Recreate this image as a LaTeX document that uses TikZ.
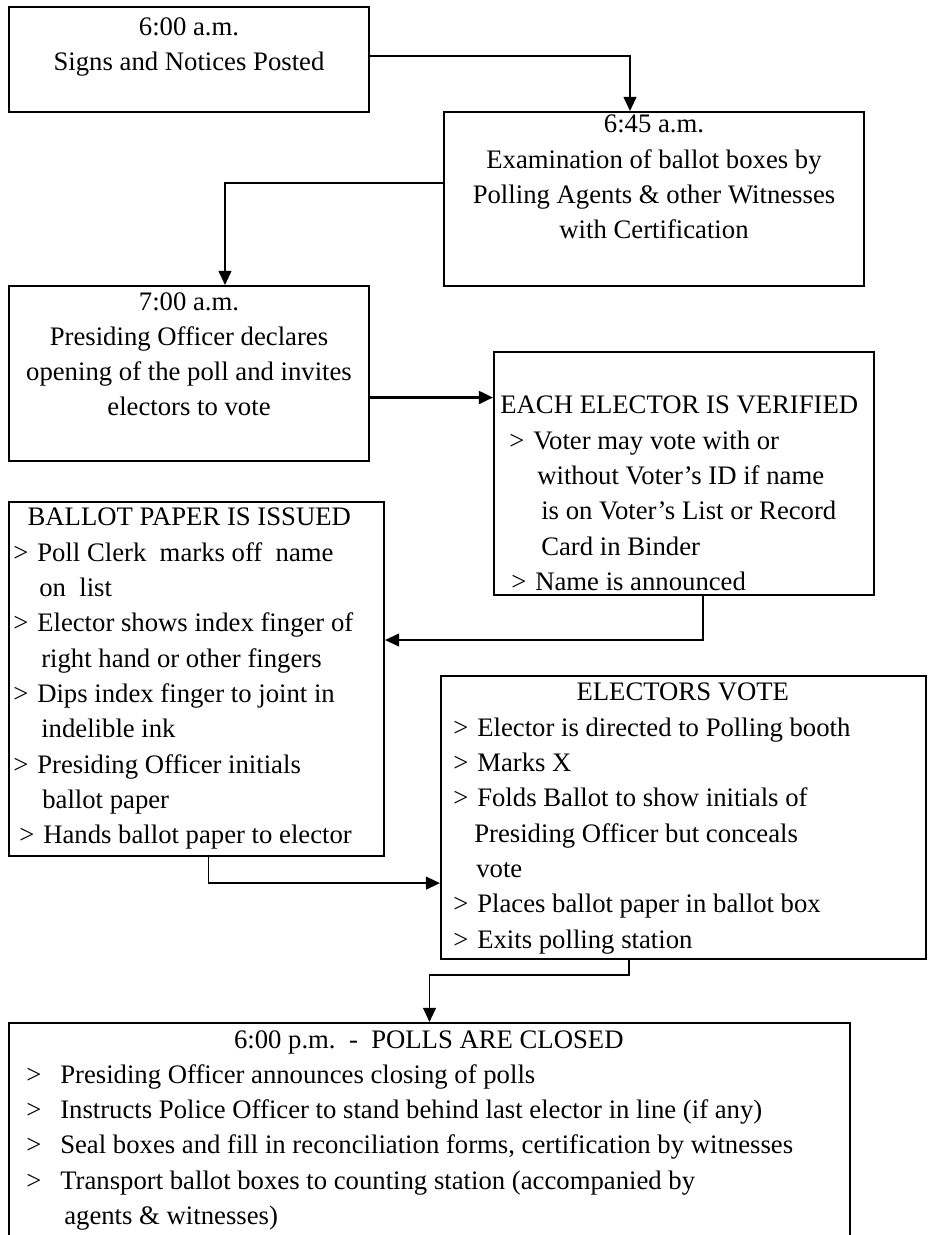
\documentclass[tikz,border=0pt]{standalone}
\usepackage{fontspec}
\setmainfont{Liberation Serif}
\usetikzlibrary{arrows.meta, positioning}
\newcommand{\flowfont}{\fontsize{19}{25.1}\selectfont}
\newcommand{\itemmark}[2]{\hspace*{#1}\makebox[#2][l]{>}}
\tikzset{
    stepbox/.style={
        rectangle,
        draw=black,
        line width=1.4pt,
        inner sep=0pt
    },
    boxtext/.style={
        align=center,
        inner sep=0pt,
        font=\flowfont
    },
    listtext/.style={
        align=left,
        inner sep=0pt,
        font=\flowfont
    },
    flow/.style={
        -{Triangle[length=10pt, width=9pt]},
        line width=1.4pt,
        draw=black
    },
    heavy flow/.style={
        flow,
        line width=2pt
    }
}
\begin{document}
\begin{tikzpicture}

\useasboundingbox (0,0) rectangle (23.2,-30.875);
\clip (0,0) rectangle (23.2,-30.875);

% Morning steps
\node[stepbox, minimum width=9cm, minimum height=2.625cm] (signs) at (4.725, -1.4875) {};
\node[boxtext, below=0.275cm of signs.north] (signs text) {
    6:00 a.m.\\
    Signs and Notices Posted
};

\node[stepbox, minimum width=10.5cm, minimum height=4.35cm] (exam) at (16.35, -4.975) {};
\node[boxtext, below=0.1cm of exam.north] (exam text) {
    6:45 a.m.\\
    Examination of ballot boxes by\\
    Polling Agents \& other Witnesses\\
    with Certification
};

\node[stepbox, minimum width=9cm, minimum height=4.375cm] (opening) at (4.725, -9.3375) {};
\node[boxtext, below=0.175cm of opening.north] (opening text) {
    7:00 a.m.\\
    Presiding Officer declares\\
    opening of the poll and invites\\
    electors to vote
};

% Verification
\node[stepbox, minimum width=9.5cm, minimum height=6.075cm] (verify) at (17.1, -11.8375) {};
\node[listtext, below right=1.125cm and 0cm of verify.north west] (verify text) {
    \makebox[9.3cm]{EACH ELECTOR IS VERIFIED}\\
    \itemmark{0.4cm}{0.6cm}Voter may vote with or\\
    \hspace*{1.1cm}without Voter’s ID if name\\
    \hspace*{1.2cm}is on Voter’s List or Record\\
    \hspace*{1.2cm}Card in Binder\\
    \itemmark{0.45cm}{0.6cm}Name is announced
};

% Ballot paper
\node[stepbox, minimum width=9.375cm, minimum height=8.85cm] (ballot) at (4.9125, -16.975) {};
\node[listtext, below right=0.175cm and 0cm of ballot.north west] (ballot text) {
    \makebox[9.05cm]{BALLOT PAPER IS ISSUED}\\
    \itemmark{0.125cm}{0.6cm}Poll Clerk\ \ marks off\ \ name\\
    \hspace*{0.775cm}on\ \ list\\
    \itemmark{0.125cm}{0.6cm}Elector shows index finger of\\
    \hspace*{0.825cm}right hand or other fingers\\
    \itemmark{0.125cm}{0.6cm}Dips index finger to joint in\\
    \hspace*{0.825cm}indelible ink\\
    \itemmark{0.125cm}{0.6cm}Presiding Officer initials\\
    \hspace*{0.85cm}ballot paper\\
    \itemmark{0.275cm}{0.6cm}Hands ballot paper to elector
};

% Voting
\node[stepbox, minimum width=12.125cm, minimum height=7.075cm] (vote) at (17.0875, -20.4375) {};
\node[listtext, below right=0.2cm and 0cm of vote.north west] (vote text) {
    \makebox[12.125cm]{ELECTORS VOTE}\\
    \itemmark{0.325cm}{0.6cm}Elector is directed to Polling booth\\
    \itemmark{0.325cm}{0.6cm}Marks X\\
    \itemmark{0.325cm}{0.6cm}Folds Ballot to show initials of\\
    \hspace*{0.85cm}Presiding Officer but conceals\\
    \hspace*{0.9cm}vote\\
    \itemmark{0.325cm}{0.6cm}Places ballot paper in ballot box\\
    \itemmark{0.325cm}{0.6cm}Exits polling station
};

% Close of poll
\node[stepbox, minimum width=21.025cm, minimum height=5.925cm] (closed) at (10.7375, -28.5375) {};
\node[listtext, below right=0.2cm and 0cm of closed.north west] (closed text) {
    \makebox[21.025cm]{6:00 p.m.\ \ -\ \ POLLS ARE CLOSED}\\
    \itemmark{0.45cm}{0.85cm}Presiding Officer announces closing of polls\\
    \itemmark{0.45cm}{0.85cm}Instructs Police Officer to stand behind last elector in line (if any)\\
    \itemmark{0.45cm}{0.85cm}Seal boxes and fill in reconciliation forms, certification by witnesses\\
    \itemmark{0.45cm}{0.85cm}Transport ballot boxes to counting station (accompanied by\\
    \hspace*{1.4cm}agents \& witnesses)
};

% Connectors
\draw[flow] ([yshift=0.09cm]signs.east) -| ([xshift=-0.6cm]exam.north);
\draw[flow] ([yshift=0.4cm]exam.west) -| ([xshift=0.9cm]opening.north);
\draw[heavy flow] ([yshift=-0.6cm]opening.east) coordinate (invite) -- (invite -| verify.west);
\draw[flow] ([xshift=0.475cm]verify.south) |- ([yshift=0.975cm]ballot.east);
\draw[flow] ([xshift=0.3cm]ballot.south) |- ([yshift=-1.64cm]vote.west);
\draw[flow] ([xshift=-1.36cm]vote.south) -- ++(0,-0.375) -| (closed.north);

\end{tikzpicture}
\end{document}
